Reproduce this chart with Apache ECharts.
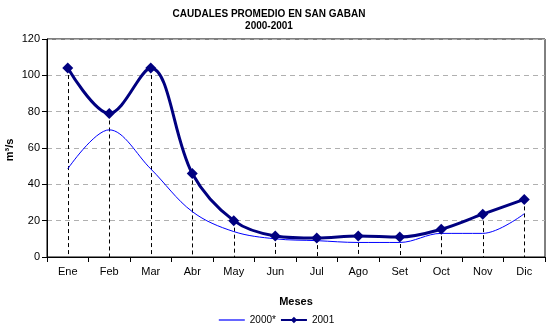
<!DOCTYPE html>
<html><head><meta charset="utf-8">
<script src="https://cdn.jsdelivr.net/npm/echarts@6/dist/echarts.min.js"></script>
<style>html,body{margin:0;padding:0;background:#fff}#c{width:553px;height:330px}</style>
</head><body><div id="c"></div>
<script>
const months = ['Ene','Feb','Mar','Abr','May','Jun','Jul','Ago','Set','Oct','Nov','Dic'];
const q2000 = [48.5, 70, 48.5, 25, 14, 10, 9, 8, 8, 13, 13, 23.8];
const q2001 = [104, 79, 104, 46, 20, 11.6, 10.4, 11.6, 11, 15.3, 23.6, 31.7];
const yTicks = [0, 20, 40, 60, 80, 100, 120];
const F = 'Liberation Sans, Arial, sans-serif';

const chart = echarts.init(document.getElementById('c'));
chart.setOption({
  animation: false,
  backgroundColor: '#fff',
  title: {
    text: 'CAUDALES PROMEDIO EN SAN GABAN\n2000-2001',
    left: 264, top: 3, textAlign: 'center',
    textStyle: {fontFamily: F, fontSize: 10, fontWeight: 'bold', color: '#000', lineHeight: 12}
  },
  graphic: [{
    type: 'text', x: 10, y: 150, rotation: Math.PI / 2,
    style: {text: 'm³/s', font: 'bold 11px Liberation Sans, Arial, sans-serif', fill: '#000',
            align: 'center', verticalAlign: 'middle'}
  }],
  legend: {
    bottom: 0, left: 'center',
    itemWidth: 26, itemHeight: 8, itemGap: 4,
    textStyle: {fontFamily: F, fontSize: 10, color: '#000'},
    data: [
      {name: '2000*', icon: 'path://M0,0L26,0L26,1.2L0,1.2Z'},
      {name: '2001'}
    ]
  },
  grid: {left: 47, right: 8, top: 39, bottom: 73, show: true, borderColor: '#000', borderWidth: 1,
         containLabel: false, outerBoundsMode: 'none'},
  xAxis: {
    type: 'category', data: months, boundaryGap: true,
    name: 'Meses', nameLocation: 'middle', nameGap: 39,
    nameTextStyle: {fontFamily: F, fontSize: 11, fontWeight: 'bold', color: '#000'},
    axisLine: {lineStyle: {color: '#000', width: 1}},
    axisTick: {show: true, length: 5, lineStyle: {color: '#000'}},
    axisLabel: {fontFamily: F, fontSize: 11, color: '#000', margin: 9},
    splitLine: {show: false}
  },
  yAxis: {
    type: 'value', min: yTicks[0], max: yTicks[yTicks.length-1], interval: 20,
    axisLine: {show: true, lineStyle: {color: '#000', width: 1}},
    axisTick: {show: true, length: 5, lineStyle: {color: '#000'}},
    axisLabel: {fontFamily: F, fontSize: 11, color: '#000', margin: 7},
    splitLine: {show: true, lineStyle: {color: '#b0b0b0', type: [5, 4], width: 1}}
  },
  series: [
    {
      name: '2000*', type: 'line', data: q2000, smooth: 0.35,
      symbol: 'none', z: 3,
      lineStyle: {color: '#0000ff', width: 1},
      itemStyle: {color: '#0000ff'}
    },
    {
      name: '2001', type: 'line', data: q2001, smooth: 0.35,
      symbol: 'diamond', symbolSize: 11, z: 4,
      lineStyle: {color: '#000080', width: 3},
      itemStyle: {color: '#000080'},
      markLine: {
        silent: true, symbol: ['none', 'none'], z: 1,
        label: {show: false},
        lineStyle: {color: '#000', type: [4, 3], width: 1},
        data: q2001.map((v, i) => [{xAxis: i, yAxis: v}, {xAxis: i, yAxis: 0}])
      }
    }
  ]
});
</script></body></html>
